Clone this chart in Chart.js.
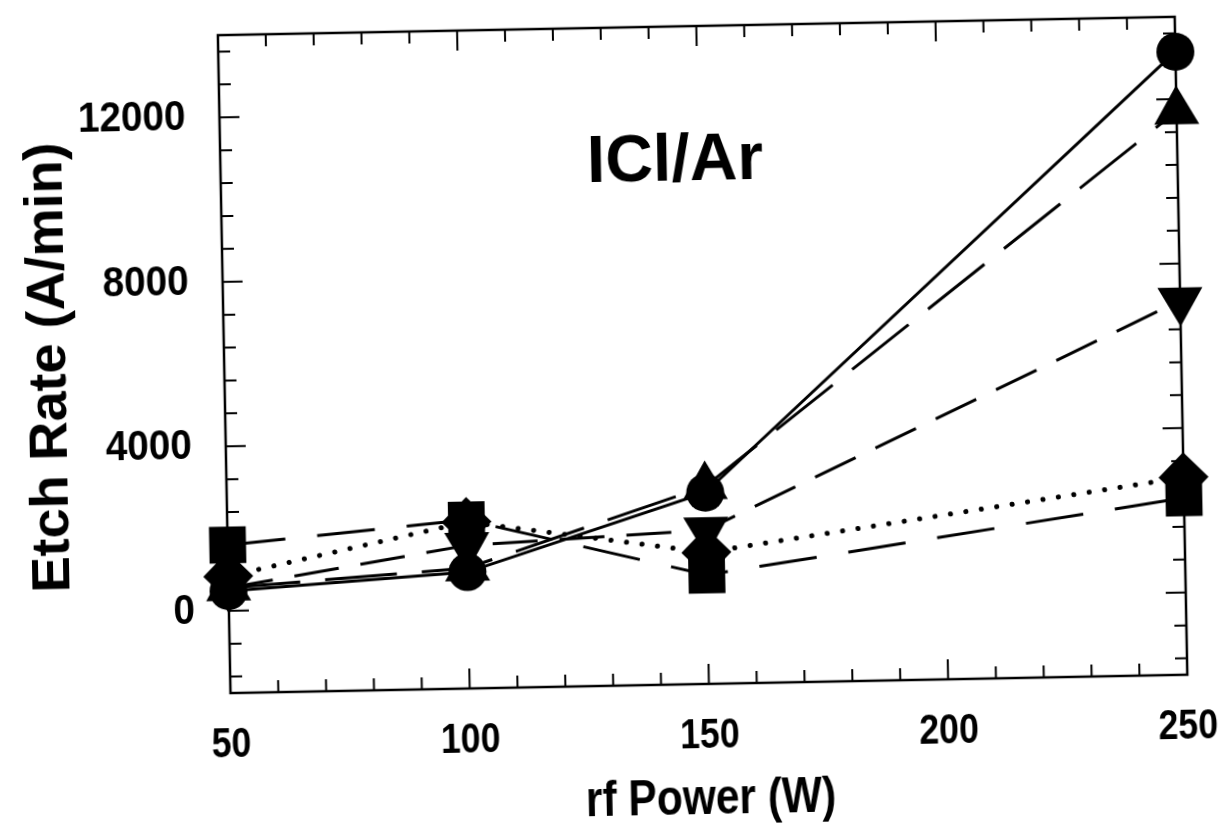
<!DOCTYPE html>
<html><head><meta charset="utf-8">
<script src="https://cdn.jsdelivr.net/npm/chart.js@4.4.1/dist/chart.umd.min.js"></script>
<style>
html,body{margin:0;padding:0;background:#fff;}
#wrap{width:1225px;height:825px;position:relative;overflow:hidden;background:#fff;}
canvas{position:absolute;left:0;top:0;transform:rotate(-1.1deg);transform-origin:700px 350px;}
</style></head><body>
<div id="wrap"><canvas id="c" width="1225" height="825"></canvas></div>
<script>
const rfPower = [50, 100, 150, 250];
const circleRate = [480, 830, 2650, 13150];
const triUpRate = [560, 930, 2800, 11700];
const triDownRate = [560, 1480, 1740, 7100];
const diamondRate = [840, 2050, 1200, 2800];
const squareRate = [1600, 2100, 650, 2300];
const xTickLabels = [50, 100, 150, 200, 250];
const yTickLabels = [0, 4000, 8000, 12000];
const chartTitle = 'ICl/Ar';
const xTitle = 'rf Power (W)';
const yTitle = 'Etch Rate (A/min)';

const SANS = "'Liberation Sans', Arial, Helvetica, sans-serif";

function pts(vals){ return rfPower.map((x,i)=>({x:x, y:vals[i]})); }

function ds(vals, style, r, dash, extra){
  return Object.assign({
    data: pts(vals),
    borderColor:'#000', backgroundColor:'#000',
    borderWidth:3, borderDash:dash,
    pointStyle:style, pointRadius:r, pointHoverRadius:r,
    pointBackgroundColor:'#000', pointBorderColor:'#000', pointBorderWidth:0,
    tension:0, clip:false, fill:false
  }, extra||{});
}

function squeezedText(ctx, text, x, y, sx, align){
  ctx.save();
  ctx.translate(x, y);
  ctx.scale(sx, 1);
  ctx.textAlign = align;
  ctx.fillText(text, 0, 0);
  ctx.restore();
}

const framePlugin = {
  id:'frame',
  beforeDatasetsDraw(chart){
    const {ctx, chartArea:a, scales:{x, y}} = chart;
    ctx.save();
    ctx.strokeStyle='#000';
    ctx.lineWidth=2.5;
    ctx.strokeRect(a.left, a.top, a.right-a.left, a.bottom-a.top);
    ctx.lineWidth=2;
    ctx.beginPath();
    for(let v=60; v<250; v+=10){
      const px=x.getPixelForValue(v);
      const len = v%50===0 ? 20 : 12;
      ctx.moveTo(px,a.bottom); ctx.lineTo(px,a.bottom-len);
      ctx.moveTo(px,a.top); ctx.lineTo(px,a.top+len);
    }
    for(let v=-1600; v<14000; v+=800){
      const py=y.getPixelForValue(v);
      const len = v%4000===0 ? 20 : 12;
      ctx.moveTo(a.left,py); ctx.lineTo(a.left+len,py);
      ctx.moveTo(a.right,py); ctx.lineTo(a.right-len,py);
    }
    ctx.stroke();
    ctx.fillStyle='#000';
    ctx.textBaseline='middle';
    ctx.font='bold 43px '+SANS;
    y.ticks.forEach(t=>{
      squeezedText(ctx, String(t.value), a.left-34, y.getPixelForValue(t.value), 0.9, 'right');
    });
    ctx.font='bold 42px '+SANS;
    x.ticks.forEach(t=>{
      squeezedText(ctx, String(t.value), x.getPixelForValue(t.value), a.bottom+52, 0.85, 'center');
    });
    ctx.font='bold 50px '+SANS;
    squeezedText(ctx, xTitle, (a.left+a.right)/2, 800, 0.85, 'center');
    ctx.font='bold 66px '+SANS;
    ctx.textAlign='center';
    ctx.fillText(chartTitle, x.getPixelForValue(145), y.getPixelForValue(10700));
    ctx.restore();
  }
};

new Chart(document.getElementById('c'), {
  type:'line',
  data:{ datasets:[
    ds(circleRate,'circle',19,[]),
    ds(triUpRate,'triangle',26,[72,25]),
    ds(triDownRate,'triangle',26,[45,22],{pointRotation:180}),
    ds(diamondRate,'rectRot',25,[0.1,15.5],{borderCapStyle:'round',borderWidth:5}),
    ds(squareRate,'rect',26,[58,32])
  ]},
  options:{
    responsive:false, animation:false,
    layout:{padding:{top:12,right:44,left:0,bottom:0}},
    plugins:{legend:{display:false}, tooltip:{enabled:false}},
    events:[],
    scales:{
      x:{
        type:'linear', min:50, max:250,
        afterBuildTicks:s=>{ s.ticks = xTickLabels.map(v=>({value:v})); },
        grid:{display:false, drawTicks:false}, border:{display:false},
        ticks:{display:false},
        title:{display:false, text:xTitle},
        afterFit:s=>{ s.height=141; }
      },
      y:{
        type:'linear', min:-2000, max:14000,
        afterBuildTicks:s=>{ s.ticks = yTickLabels.map(v=>({value:v})); },
        grid:{display:false, drawTicks:false}, border:{display:false},
        ticks:{display:false},
        title:{display:true, text:yTitle, color:'#000', padding:{top:18,bottom:0},
          font:{family:SANS, weight:'bold', size:54}},
        afterFit:s=>{ s.width=224; }
      }
    }
  },
  plugins:[framePlugin]
});
</script>
</body></html>
